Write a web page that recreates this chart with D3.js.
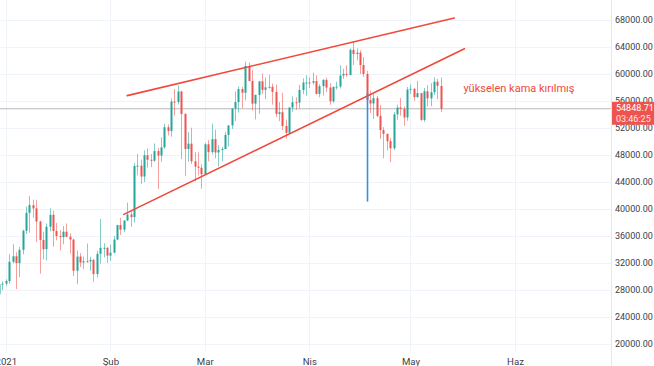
<!DOCTYPE html>
<html><head><meta charset="utf-8">
<script src="https://cdn.jsdelivr.net/npm/d3@7"></script>
<style>html,body{margin:0;padding:0;background:#fff;overflow:hidden}svg{display:block;font-family:Roboto,"Liberation Sans",sans-serif}</style>
</head><body><svg id="c" width="654" height="366"></svg>
<script>
// Daily BTC candles, 2020-12-30 .. 2021-05-10
const startDay = "2020-12-30";
const open = [27360,28840,28950,29330,32180,33000,31990,33950,36770,39430,40580,40090,38150,35400,34050,37370,39140,36740,35990,35830,36630,35890,35470,30850,32950,32080,32260,32250,32470,30370,33360,34250,34260,
33090,33530,35470,37620,36940,38290,39190,38800,46370,46420,44810,47970,47290,47150,48580,47910,49130,52120,51550,55910,55840,57410,54090,48890,49680,47070,46280,46110,
45140,49590,48440,50350,48370,48750,48880,50970,52380,54880,55850,57770,57220,61190,58970,55610,56900,58910,57650,58030,58100,57350,54080,54340,52300,51290,55030,55820,55780,57630,58730,
58740,58720,58950,57050,58200,59130,57990,55950,58080,58140,59770,60010,59860,63580,62960,63160,61330,60010,56150,55630,56430,53790,51690,51130,50050,49000,54020,55030,54830,53560,
57690,57800,56580,57170,53200,57440,56390,57310,58860,58240];
const high = [29000,29300,29600,33300,34780,33600,34360,36940,40370,41950,41380,41350,38260,36630,37850,40100,39750,37950,36850,37470,37850,36420,35600,33830,33460,32940,34880,32920,32560,33780,38530,34930,34340,
34720,35980,37660,38710,38310,40960,39700,46790,48140,47310,48680,48990,48150,49710,49010,50620,52620,52530,56370,57770,58350,57510,54180,51370,52040,48420,48390,46640,
49790,50200,52640,51770,49450,49200,51450,52400,54900,57390,58150,58080,61840,61680,60630,56940,58980,60100,59470,59880,58590,58430,55830,57200,53230,55070,56700,56560,58400,59370,59800,
59490,60200,59790,58500,59250,59470,58650,58150,58870,61300,60790,61300,63780,64850,63800,63520,62510,60500,57530,57040,56760,55410,52130,51170,50570,54360,55460,56430,55200,58080,
58460,57920,58980,57200,57940,58360,58650,59500,59300,59500];
const low = [27320,28000,28620,28950,31960,28130,29900,33290,36300,36500,38720,35110,30420,32530,32380,36700,34410,35360,33850,34800,35840,33400,30070,28850,31390,31110,32080,30840,29240,29840,31920,32830,32000,
32300,33420,35360,36160,36570,38220,37350,37990,45000,43730,43990,46130,46200,47010,42990,47000,48950,50900,50710,53860,55480,47400,44890,47000,46670,44110,45000,43000,
45120,47050,48100,47500,46300,47070,48880,49270,51850,53010,54270,54960,56080,58960,54600,53270,54120,57020,56270,57820,55450,53650,53000,51700,50430,51230,54420,54690,54900,57000,56770,
57940,58430,56960,56540,56800,57330,55470,55700,57670,57870,59290,59600,59810,61300,62020,60000,59580,50930,54220,53330,53600,50400,47500,48660,46930,48750,53220,53810,52330,53070,
57050,56040,56440,53050,52900,55200,55240,56900,56240,54380];
const close = [28840,28950,29330,32180,33000,31990,33950,36770,39430,40580,40090,38150,35400,34050,37370,39140,36740,35990,35830,36630,35890,35470,30850,32950,32080,32260,32250,32470,30370,33360,34250,34260,33090,
33530,35470,37620,36940,38290,39190,38800,46370,46420,44810,47970,47290,47150,48580,47910,49130,52120,51550,55910,55840,57410,54090,48890,49680,47070,46280,46110,45140,
49590,48440,50350,48370,48750,48880,50970,52380,54880,55850,57770,57220,61190,58970,55610,56900,58910,57650,58030,58100,57350,54080,54340,52300,51290,55030,55820,55780,57630,58730,58740,
58720,58950,57050,58200,59130,57990,55950,58080,58140,59770,60010,59860,63580,62960,63160,61330,60010,56150,55630,56430,53790,51690,51130,50050,49000,54020,55030,54830,53560,57690,
57800,56580,57170,53200,57440,56390,57310,58860,58240,54848.71];
const priceTicks = [20000,24000,28000,32000,36000,40000,44000,48000,52000,56000,60000,64000,68000];
const monthTicks = ["2021-01-01","2021-02-01","2021-03-01","2021-04-01","2021-05-01","2021-06-01"];
const monthLabels = ["2021","Şub","Mar","Nis","May","Haz"];
// Drawn trend lines: [date, price] endpoints
const upperLine = [["2021-02-06",56800],["2021-05-14",68300]];
const lowerLine = [["2021-02-05",39200],["2021-05-17",63750]];
const breakLine = [["2021-04-18",57200],["2021-04-18",41100]];
const annotation = "yükselen kama kırılmış";
const annotationAt = ["2021-05-17",57700];
const lastPrice = "54848.71";
const countdown = "03:46:25";

const P = d3.timeParse("%Y-%m-%d");
const dates = d3.timeDay.range(P(startDay), d3.timeDay.offset(P(startDay), close.length));
const data = dates.map((d,i)=>({d,o:open[i],h:high[i],l:low[i],c:close[i]}));

const svg = d3.select("#c");
const W = 611, H = 352;
const x = d3.scaleTime().domain([P("2021-01-01"), P("2021-06-01")]).range([5.8, 515]);
const y = d3.scaleLinear().domain([20000, 68000]).range([344, 20]);

svg.append("defs").append("clipPath").attr("id","clip").append("rect").attr("x",0).attr("y",0).attr("width",W).attr("height",H);

// grid
const g = svg.append("g").attr("clip-path","url(#clip)");
g.selectAll(".hg").data(priceTicks).join("line").attr("x1",0).attr("x2",W)
  .attr("y1",d=>Math.round(y(d))+0.5).attr("y2",d=>Math.round(y(d))+0.5).attr("stroke","#f0f3fa");
g.selectAll(".vg").data(monthTicks).join("line").attr("y1",0).attr("y2",H)
  .attr("x1",d=>Math.round(x(P(d)))+0.5).attr("x2",d=>Math.round(x(P(d)))+0.5).attr("stroke","#f0f3fa");

// last price line
g.append("line").attr("x1",0).attr("x2",W).attr("y1",y(close[close.length-1])).attr("y2",y(close[close.length-1]))
  .attr("stroke","#b8b8b8").attr("stroke-width",1);

// candles
const up="#26a69a", dn="#ef5350";
const cg = g.append("g");
cg.selectAll(".wick").data(data).join("line")
  .attr("x1",d=>Math.round(x(d.d))+0.5).attr("x2",d=>Math.round(x(d.d))+0.5)
  .attr("y1",d=>y(d.h)).attr("y2",d=>y(d.l))
  .attr("stroke",d=>d.c>=d.o?up:dn).attr("stroke-width",1).attr("opacity",0.55);
cg.selectAll(".body").data(data).join("rect")
  .attr("x",d=>Math.round(x(d.d))-0.5).attr("width",2)
  .attr("y",d=>y(Math.max(d.o,d.c))).attr("height",d=>Math.max(1,Math.abs(y(d.o)-y(d.c))))
  .attr("fill",d=>d.c>=d.o?up:dn);

// trend lines
const red="#f0493c";
[upperLine, lowerLine].forEach(L=>{
  g.append("line").attr("x1",x(P(L[0][0]))).attr("y1",y(L[0][1])).attr("x2",x(P(L[1][0]))).attr("y2",y(L[1][1]))
   .attr("stroke",red).attr("stroke-width",1.6).attr("stroke-linecap","round");
});
g.append("line").attr("x1",Math.round(x(P(breakLine[0][0])))+0.5).attr("y1",y(breakLine[0][1]))
  .attr("x2",Math.round(x(P(breakLine[1][0])))+0.5).attr("y2",y(breakLine[1][1]))
  .attr("stroke","#2196f3").attr("stroke-width",1.6);

g.append("text").attr("x",x(P(annotationAt[0]))-1).attr("y",y(annotationAt[1]))
  .attr("font-size",11).attr("fill",red).attr("dominant-baseline","middle").text(annotation);

// right axis
svg.append("line").attr("x1",W+0.5).attr("x2",W+0.5).attr("y1",0).attr("y2",366).attr("stroke","#e6e6e6");
const ya = svg.append("g").attr("transform",`translate(${W},0)`)
  .call(d3.axisRight(y).tickValues(priceTicks).tickSize(0).tickPadding(4).tickFormat(d3.format(".2f")));
ya.select(".domain").remove();
ya.selectAll("text").attr("font-size",9).attr("fill","#3a3e4a").attr("font-family","Roboto,'Liberation Sans',sans-serif");

// last price label
const ly = y(close[close.length-1]);
svg.append("rect").attr("x",W+1).attr("y",ly-7).attr("width",654-W-1).attr("height",23).attr("fill","#ef5350");
svg.append("text").attr("x",W+5).attr("y",ly).attr("dominant-baseline","middle").attr("font-size",9).attr("fill","#fff").text(lastPrice);
svg.append("text").attr("x",W+5).attr("y",ly+11).attr("dominant-baseline","middle").attr("font-size",9).attr("fill","#fff").attr("opacity",0.85).text(countdown);

// bottom axis
const xa = svg.append("g").attr("transform",`translate(0,${H})`)
  .call(d3.axisBottom(x).tickValues(monthTicks.map(P)).tickSize(0).tickPadding(6).tickFormat((d,i)=>monthLabels[i]));
xa.select(".domain").remove();
xa.selectAll("text").attr("font-size",9.6).attr("fill","#3a3e4a").attr("font-family","Roboto,'Liberation Sans',sans-serif");
</script></body></html>
